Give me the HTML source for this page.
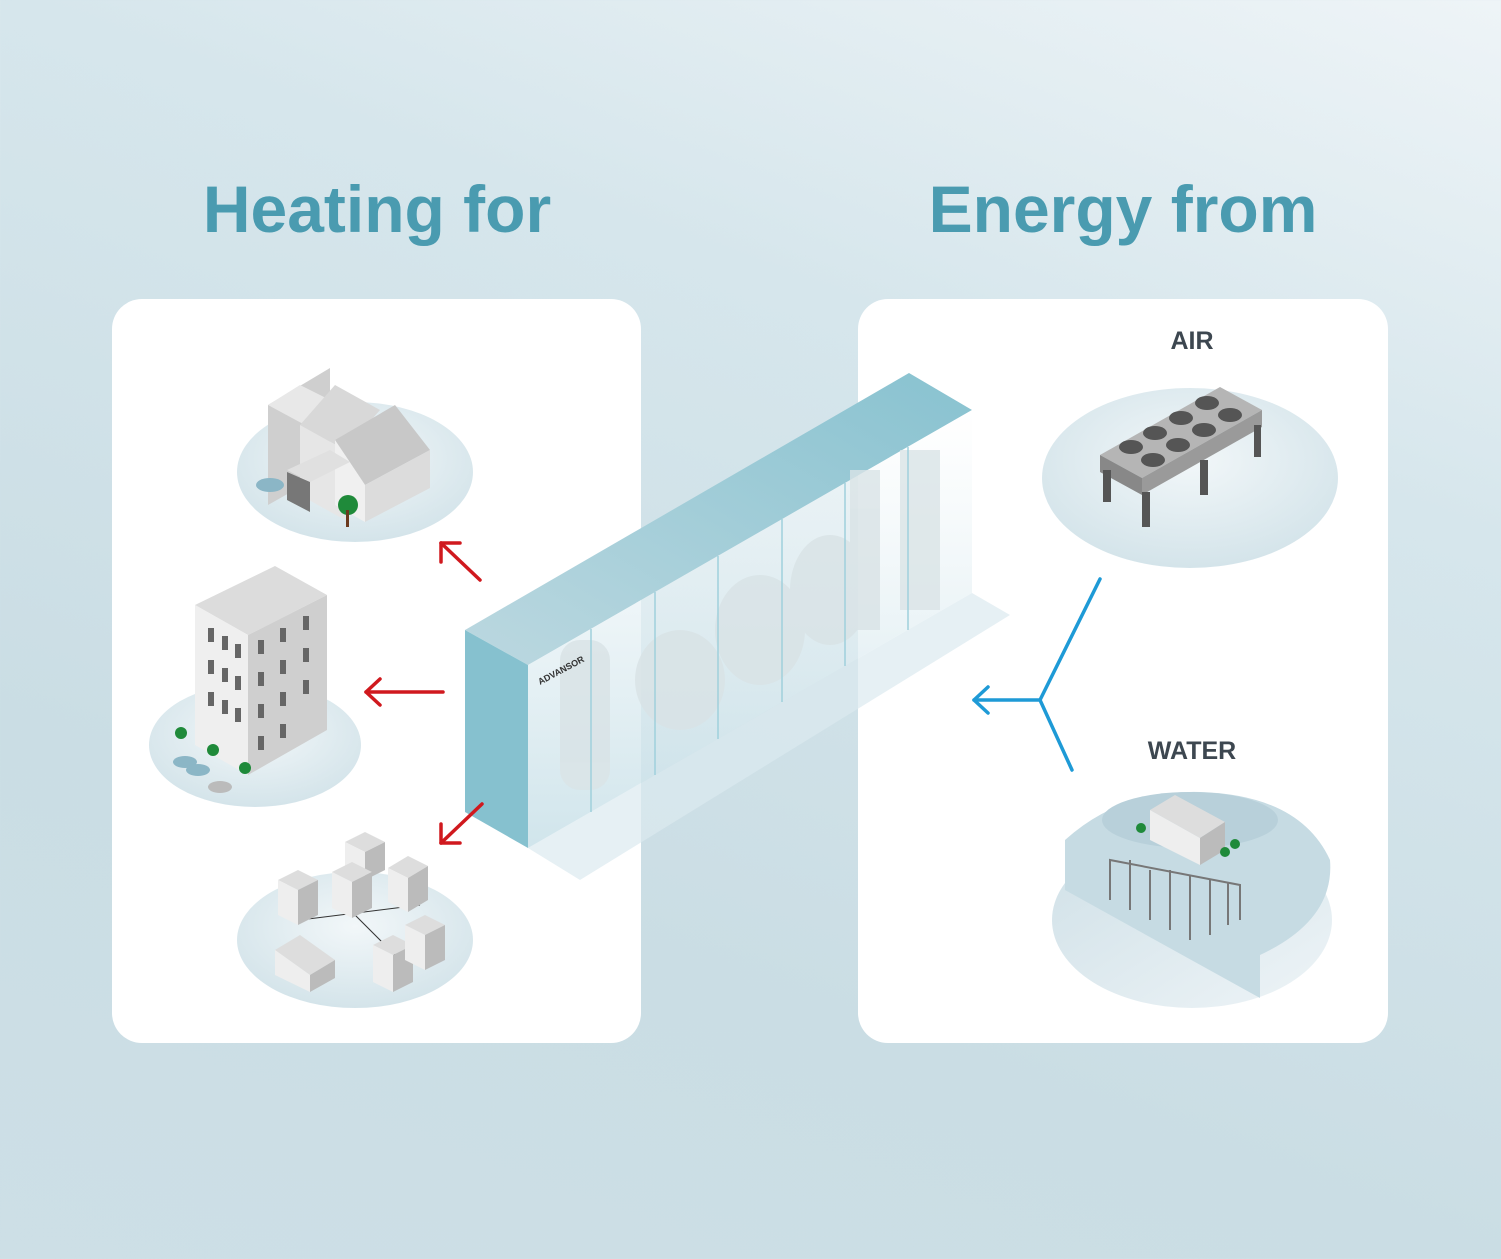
<!DOCTYPE html>
<html><head><meta charset="utf-8"><style>
html,body{margin:0;padding:0;width:1501px;height:1259px;overflow:hidden}
body{background:linear-gradient(200deg,#eef4f7 0%,#d6e6ec 30%,#cadde4 70%,#cddfe6 100%);font-family:"Liberation Sans",sans-serif}
</style></head><body>
<svg width="1501" height="1259" viewBox="0 0 1501 1259" xmlns="http://www.w3.org/2000/svg">
<defs>
<radialGradient id="ell" cx="50%" cy="40%" r="60%"><stop offset="0" stop-color="#f2f7f9"/><stop offset="1" stop-color="#d4e4ea"/></radialGradient>
<linearGradient id="top" x1="0" y1="1" x2="1" y2="0"><stop offset="0" stop-color="#bcd8e0"/><stop offset="1" stop-color="#88c2d0"/></linearGradient>
<linearGradient id="face" x1="0" y1="0" x2="0" y2="1"><stop offset="0" stop-color="#ffffff" stop-opacity="0.6"/><stop offset="1" stop-color="#c8e0e8" stop-opacity="0.85"/></linearGradient>
<linearGradient id="wat" x1="0" y1="0" x2="1" y2="1"><stop offset="0" stop-color="#cfe0e7"/><stop offset="1" stop-color="#eef4f7"/></linearGradient>
</defs>
<text x="377" y="232" text-anchor="middle" font-size="66" font-weight="bold" fill="#4a9bb0">Heating for</text>
<text x="1123" y="232" text-anchor="middle" font-size="66" font-weight="bold" fill="#4a9bb0">Energy from</text>
<rect x="112" y="299" width="529" height="744" rx="30" fill="#fff"/>
<rect x="858" y="299" width="530" height="744" rx="30" fill="#fff"/>
<!-- left ellipses -->
<ellipse cx="355" cy="472" rx="118" ry="70" fill="url(#ell)"/>
<ellipse cx="255" cy="745" rx="106" ry="62" fill="url(#ell)"/>
<ellipse cx="355" cy="940" rx="118" ry="68" fill="url(#ell)"/>
<!-- factory -->
<g>
<polygon points="268,405 330,368 330,470 268,505" fill="#cfcfcf"/>
<polygon points="268,405 300,385 340,405 305,425" fill="#e8e8e8"/>
<polygon points="300,425 335,385 380,410 345,450" fill="#d8d8d8"/>
<polygon points="300,425 345,450 345,520 300,495" fill="#e6e6e6"/>
<polygon points="335,440 395,405 430,450 365,485" fill="#c8c8c8"/>
<polygon points="335,440 365,485 365,522 335,505" fill="#f0f0f0"/>
<polygon points="365,485 430,450 430,488 365,522" fill="#dcdcdc"/>
<polygon points="287,470 330,450 350,462 310,482" fill="#e0e0e0"/>
<polygon points="287,472 310,482 310,512 287,500" fill="#777"/>
<circle cx="348" cy="505" r="10" fill="#1f8a3a"/><rect x="346" y="510" width="3" height="17" fill="#6b3a1e"/>
<ellipse cx="270" cy="485" rx="14" ry="7" fill="#8bb6c6"/>
</g>
<!-- tall building -->
<g>
<polygon points="195,605 275,566 327,595 248,635" fill="#dcdcdc"/>
<polygon points="195,605 248,635 248,775 195,745" fill="#efefef"/>
<polygon points="248,635 327,595 327,730 248,775" fill="#cfcfcf"/>
<g fill="#666">
<rect x="208" y="628" width="6" height="14"/><rect x="222" y="636" width="6" height="14"/><rect x="235" y="644" width="6" height="14"/>
<rect x="208" y="660" width="6" height="14"/><rect x="222" y="668" width="6" height="14"/><rect x="235" y="676" width="6" height="14"/>
<rect x="208" y="692" width="6" height="14"/><rect x="222" y="700" width="6" height="14"/><rect x="235" y="708" width="6" height="14"/>
<rect x="258" y="640" width="6" height="14"/><rect x="280" y="628" width="6" height="14"/><rect x="303" y="616" width="6" height="14"/>
<rect x="258" y="672" width="6" height="14"/><rect x="280" y="660" width="6" height="14"/><rect x="303" y="648" width="6" height="14"/>
<rect x="258" y="704" width="6" height="14"/><rect x="280" y="692" width="6" height="14"/><rect x="303" y="680" width="6" height="14"/>
<rect x="258" y="736" width="6" height="14"/><rect x="280" y="724" width="6" height="14"/>
</g>
<circle cx="181" cy="733" r="6" fill="#1f8a3a"/><circle cx="213" cy="750" r="6" fill="#1f8a3a"/><circle cx="245" cy="768" r="6" fill="#1f8a3a"/>
<ellipse cx="185" cy="762" rx="12" ry="6" fill="#8bb6c6"/><ellipse cx="198" cy="770" rx="12" ry="6" fill="#8bb6c6"/><ellipse cx="220" cy="787" rx="12" ry="6" fill="#bbb"/>
</g>
<!-- district -->
<g>
<line x1="300" y1="920" x2="420" y2="905" stroke="#333"/><line x1="340" y1="900" x2="400" y2="960" stroke="#333"/>
<g>
<polygon points="278,880 298,870 318,880 298,890" fill="#ddd"/><polygon points="278,880 298,890 298,925 278,915" fill="#eee"/><polygon points="298,890 318,880 318,915 298,925" fill="#bbb"/>
<polygon points="345,842 365,832 385,842 365,852" fill="#ddd"/><polygon points="345,842 365,852 365,880 345,870" fill="#eee"/><polygon points="365,852 385,842 385,870 365,880" fill="#bbb"/>
<polygon points="332,872 352,862 372,872 352,882" fill="#ddd"/><polygon points="332,872 352,882 352,918 332,908" fill="#eee"/><polygon points="352,882 372,872 372,908 352,918" fill="#bbb"/>
<polygon points="388,868 408,856 428,866 408,878" fill="#ddd"/><polygon points="388,868 408,878 408,912 388,902" fill="#eee"/><polygon points="408,878 428,866 428,900 408,912" fill="#bbb"/>
<polygon points="373,945 393,935 413,945 393,955" fill="#ddd"/><polygon points="373,945 393,955 393,992 373,982" fill="#eee"/><polygon points="393,955 413,945 413,982 393,992" fill="#bbb"/>
<polygon points="405,925 425,915 445,925 425,935" fill="#ddd"/><polygon points="405,925 425,935 425,970 405,960" fill="#eee"/><polygon points="425,935 445,925 445,960 425,970" fill="#bbb"/>
<polygon points="275,950 300,935 335,960 310,975" fill="#ddd"/><polygon points="275,950 310,975 310,992 275,975" fill="#eee"/><polygon points="310,975 335,960 335,978 310,992" fill="#bbb"/>
</g>
</g>
<!-- right ellipse air -->
<ellipse cx="1190" cy="478" rx="148" ry="90" fill="url(#ell)"/>
<text x="1192" y="349" text-anchor="middle" font-size="25" font-weight="bold" fill="#3d4750">AIR</text>
<g>
<polygon points="1100,455 1220,387 1262,410 1142,478" fill="#b5b5b5"/>
<polygon points="1100,455 1142,478 1142,495 1100,472" fill="#888"/>
<polygon points="1142,478 1262,410 1262,427 1142,495" fill="#9a9a9a"/>
<rect x="1103" y="470" width="8" height="32" fill="#555"/><rect x="1142" y="492" width="8" height="35" fill="#555"/><rect x="1200" y="460" width="8" height="35" fill="#555"/><rect x="1254" y="425" width="7" height="32" fill="#555"/>
<g fill="#555"><ellipse cx="1131" cy="447" rx="12" ry="7"/><ellipse cx="1155" cy="433" rx="12" ry="7"/><ellipse cx="1181" cy="418" rx="12" ry="7"/><ellipse cx="1207" cy="403" rx="12" ry="7"/>
<ellipse cx="1153" cy="460" rx="12" ry="7"/><ellipse cx="1178" cy="445" rx="12" ry="7"/><ellipse cx="1204" cy="430" rx="12" ry="7"/><ellipse cx="1230" cy="415" rx="12" ry="7"/></g>
</g>
<!-- water -->
<text x="1192" y="759" text-anchor="middle" font-size="25" font-weight="bold" fill="#3d4750">WATER</text>
<ellipse cx="1192" cy="920" rx="140" ry="88" fill="url(#wat)"/>
<path d="M1065,840 Q1120,790 1200,792 Q1300,795 1330,860 Q1335,920 1260,955 L1260,998 L1065,890 Z" fill="#c6dbe3"/>
<ellipse cx="1190" cy="820" rx="88" ry="28" fill="#b8d0da"/>
<g stroke="#777" stroke-width="2" fill="none">
<path d="M1110,900 L1110,860 L1240,885 L1240,920 M1130,910 L1130,860 M1150,920 L1150,870 M1170,930 L1170,870 M1190,940 L1190,875 M1210,935 L1210,880 M1228,925 L1228,882"/>
</g>
<g>
<polygon points="1150,810 1175,795 1225,822 1200,838" fill="#ddd"/>
<polygon points="1150,810 1200,838 1200,865 1150,840" fill="#eee"/>
<polygon points="1200,838 1225,822 1225,850 1200,865" fill="#bbb"/>
<circle cx="1141" cy="828" r="5" fill="#1f8a3a"/><circle cx="1225" cy="852" r="5" fill="#1f8a3a"/><circle cx="1235" cy="844" r="5" fill="#1f8a3a"/>
</g>
<!-- central unit -->
<polygon points="528,848 972,593 1010,615 580,880" fill="#dbe9ef" opacity="0.7"/>
<polygon points="465,630 909,373 972,410 528,665" fill="url(#top)"/>
<polygon points="528,665 972,410 972,593 528,848" fill="url(#face)"/>
<g fill="#d9e3e6" opacity="0.8">
<rect x="560" y="640" width="50" height="150" rx="20"/>
<ellipse cx="680" cy="680" rx="45" ry="50"/><ellipse cx="760" cy="630" rx="45" ry="55"/><ellipse cx="830" cy="590" rx="40" ry="55"/>
<rect x="850" y="470" width="30" height="160"/><rect x="900" y="450" width="40" height="160"/>
</g>
<g stroke="#9fd0dc" stroke-width="1.5">
<line x1="591" y1="629" x2="591" y2="812"/><line x1="655" y1="592" x2="655" y2="775"/><line x1="718" y1="556" x2="718" y2="739"/><line x1="782" y1="519" x2="782" y2="702"/><line x1="845" y1="483" x2="845" y2="666"/><line x1="908" y1="447" x2="908" y2="630"/>
</g>
<polygon points="465,630 528,665 528,848 465,812" fill="#86c1cf"/>
<text x="540" y="685" font-size="9" font-weight="bold" fill="#333" transform="rotate(-28 540 685)">ADVANSOR</text>
<!-- red arrows -->
<g stroke="#d0191e" stroke-width="3.5" fill="none" stroke-linecap="round" stroke-linejoin="round">
<line x1="480" y1="580" x2="441" y2="543"/><polyline points="441,562 441,543 460,543"/>
<line x1="443" y1="692" x2="366" y2="692"/><polyline points="380,679 366,692 380,705"/>
<line x1="482" y1="804" x2="441" y2="843"/><polyline points="441,824 441,843 460,843"/>
</g>
<!-- blue -->
<g stroke="#1e9ad6" stroke-width="3.5" fill="none" stroke-linecap="round" stroke-linejoin="round">
<polyline points="1100,579 1040,700 1072,770"/>
<line x1="1040" y1="700" x2="974" y2="700"/><polyline points="988,687 974,700 988,713"/>
</g>
</svg>
</body></html>
